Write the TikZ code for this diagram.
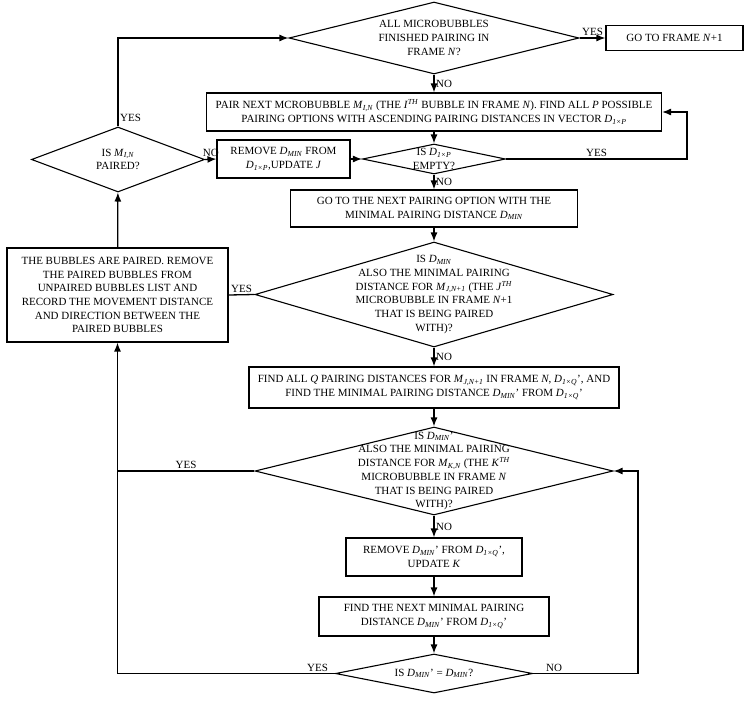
\documentclass[tikz,border=0pt]{standalone}
\usepackage{fontspec}
\setmainfont{Liberation Serif}
\usetikzlibrary{shapes.geometric, arrows, arrows.meta}
\tikzstyle{process} = [rectangle, draw=black, line width=1.1pt, align=center, inner sep=2pt]
\tikzstyle{decision} = [diamond, draw=black, line width=1.1pt, inner sep=0pt]
\tikzstyle{arrow} = [line width=1.3pt,->,>={Latex[length=9pt,width=7pt]}]
\tikzstyle{line} = [line width=1.3pt]
\tikzstyle{lbl} = [inner sep=1.5pt]
\newcommand{\varit}[1]{\textit{#1}}
\newcommand{\varsub}[2]{\textit{#1}\textsubscript{\textit{#2}}}
\newcommand{\ordth}[1]{\textit{#1}\textsuperscript{\textit{TH}}}
\newcommand{\dmin}{\varsub{D}{MIN}}
\newcommand{\dpvec}{\varsub{D}{1×P}}
\newcommand{\dqvec}{\varsub{D}{1×Q}}

\begin{document}
\begin{tikzpicture}[x=1pt, y=-1pt, font=\fontsize{11}{13.7}\selectfont, every label/.style={align=center, inner sep=0pt}]
\useasboundingbox (0,0) rectangle (754,701);

% Frame loop
\node (allDone) [decision, minimum width=290pt, minimum height=72pt, label=center:{ALL MICROBUBBLES\\FINISHED PAIRING IN\\FRAME \varit{N}?}] at (434,38) {};
\node (goFrame) [process, minimum width=137pt, minimum height=25pt] at (674.5,38) {GO TO FRAME \varit{N}+1};
\node (pairNext) [process, minimum width=455pt, minimum height=38pt] at (434,112) {PAIR NEXT MCROBUBBLE \varsub{M}{I,N} (THE \ordth{I} BUBBLE IN FRAME \varit{N}). FIND ALL \varit{P} POSSIBLE\\PAIRING OPTIONS WITH ASCENDING PAIRING DISTANCES IN VECTOR \dpvec};
\node (emptyChk) [decision, minimum width=143pt, minimum height=30pt, label=center:{IS \dpvec\\EMPTY?}] at (434,159) {};
\node (removeJ) [process, minimum width=133pt, minimum height=38pt] at (283.5,159) {REMOVE \dmin{} FROM\\\dpvec,UPDATE \varit{J}};
\node (pairedChk) [decision, minimum width=173pt, minimum height=65pt, label=center:{IS \varsub{M}{I,N}\\PAIRED?}] at (118,159.5) {};
\node (nextOpt) [process, minimum width=287pt, minimum height=37pt] at (434,208.5) {GO TO THE NEXT PAIRING OPTION WITH THE\\MINIMAL PAIRING DISTANCE \dmin};

% Checking the pair
\node (bigChk) [decision, minimum width=358pt, minimum height=105pt, label=center:{IS \dmin\\ALSO THE MINIMAL PAIRING\\DISTANCE FOR \varsub{M}{J,N+1} (THE \ordth{J}\\MICROBUBBLE IN FRAME \varit{N}+1\\THAT IS BEING PAIRED\\WITH)?}] at (434,294.5) {};
\node (paired) [process, minimum width=221pt, minimum height=94pt] at (117.5,295) {THE BUBBLES ARE PAIRED. REMOVE\\THE PAIRED BUBBLES FROM\\UNPAIRED BUBBLES LIST AND\\RECORD THE MOVEMENT DISTANCE\\AND DIRECTION BETWEEN THE\\PAIRED BUBBLES};
\node (findQ) [process, minimum width=370pt, minimum height=41pt] at (434,387.5) {FIND ALL \varit{Q} PAIRING DISTANCES FOR \varsub{M}{J,N+1} IN FRAME \varit{N}, \dqvec', AND\\FIND THE MINIMAL PAIRING DISTANCE \dmin' FROM \dqvec'};
\node (kChk) [decision, minimum width=358pt, minimum height=88pt, label=center:{IS \dmin'\\ALSO THE MINIMAL PAIRING\\DISTANCE FOR \varsub{M}{K,N} (THE \ordth{K}\\MICROBUBBLE IN FRAME \varit{N}\\THAT IS BEING PAIRED\\WITH)?}] at (434,471) {};
\node (removeK) [process, minimum width=176pt, minimum height=38pt] at (434,557) {REMOVE \dmin' FROM \dqvec',\\UPDATE \varit{K}};
\node (findNext) [process, minimum width=230pt, minimum height=39pt] at (434,616.5) {FIND THE NEXT MINIMAL PAIRING\\DISTANCE \dmin' FROM \dqvec'};
\node (eqChk) [decision, minimum width=197pt, minimum height=39pt, label=center:{IS \dmin' = \dmin?}] at (434,673.5) {};

% Loop corners
\coordinate (emptyLoop) at (687,159);
\coordinate (eqLoop) at (638,673.5);

% Arrows
\draw [arrow] (allDone) -- node[lbl, above]{YES} (goFrame);
\draw [arrow] (allDone) -- node[lbl, right]{NO} (pairNext);
\draw [arrow] (pairNext) -- (emptyChk);
\draw [arrow] (emptyChk.east) -- node[lbl, above]{YES} (emptyLoop) |- (pairNext.east);
\draw [arrow] (emptyChk) -- node[lbl, right]{NO} (nextOpt);
\draw [arrow] (pairedChk.east) -- node[lbl, above]{NO} (removeJ.west);
\draw [arrow] (removeJ.east) -- (emptyChk.west);
\draw [arrow] (pairedChk.north) |- node[lbl, right, pos=0.05]{YES} (allDone.west);
\draw [arrow] (nextOpt) -- (bigChk);
\draw [line] (bigChk.west) -- node[lbl, above]{YES} (paired.east);
\draw [arrow] (paired) -- (pairedChk);
\draw [arrow] (bigChk) -- node[lbl, right]{NO} (findQ);
\draw [arrow] (findQ) -- (kChk);
\draw [arrow] (kChk) -- node[lbl, right]{NO} (removeK);
\draw [arrow] (removeK) -- (findNext);
\draw [arrow] (findNext) -- (eqChk);
\draw [arrow] (eqChk.east) -- node[lbl, above, pos=0.2]{NO} (eqLoop) |- (kChk.east);
\draw [arrow] (eqChk.west) -| node[lbl, above, pos=0.04]{YES} (paired.south);
\draw [line] (kChk.west) -- node[lbl, above]{YES} (paired.south |- kChk.west);

\end{tikzpicture}
\end{document}
